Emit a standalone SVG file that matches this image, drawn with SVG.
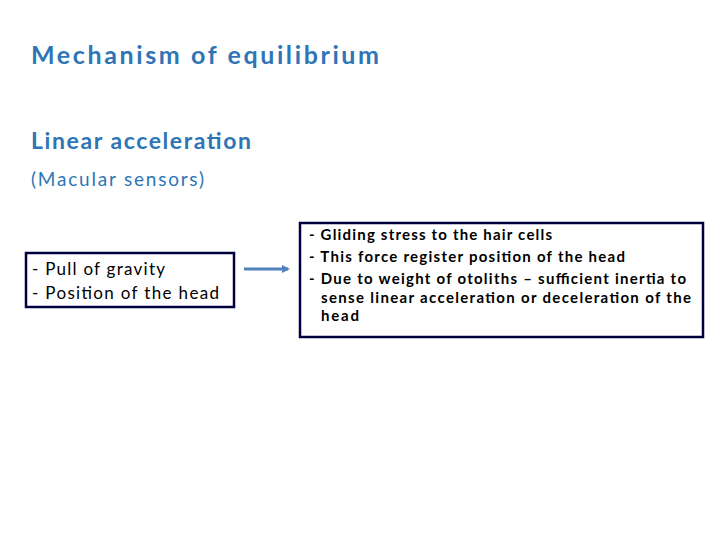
<svg xmlns="http://www.w3.org/2000/svg" width="720" height="540" viewBox="0 0 720 540">
<style>
.h{font-family:Lato,"Open Sans",sans-serif;fill:#2E75B6;font-weight:bold}
.s{font-family:Lato,"Open Sans",sans-serif;fill:#2E75B6}
.t{font-family:Lato,"Open Sans",sans-serif;fill:#000;font-size:17px}
.b{font-family:Lato,"Open Sans",sans-serif;fill:#000;font-size:15px;font-weight:bold}
.box{fill:#fff;stroke:#000040;stroke-width:2.5}
</style>
<defs><marker id="ah" markerWidth="8" markerHeight="8" refX="6" refY="4" orient="auto" markerUnits="userSpaceOnUse"><path d="M0,0 L8,4 L0,8 Z" fill="#4F81BD"/></marker></defs>
<rect width="720" height="540" fill="#fff"/>
<text class="h" x="31" y="64" font-size="25" textLength="348">Mechanism of equilibrium</text>
<text class="h" x="31" y="149" font-size="23" textLength="220">Linear acceleration</text>
<text class="s" x="31" y="186" font-size="19" textLength="173">(Macular sensors)</text>
<g id="left">
<rect class="box" x="26" y="253" width="208" height="54"/>
<text class="t" x="32" y="275" textLength="133">- Pull of gravity</text>
<text class="t" x="32" y="299" textLength="187">- Position of the head</text>
</g>
<g id="right">
<rect class="box" x="300" y="223" width="403" height="114"/>
<text class="b" x="309" y="240" textLength="243">-  Gliding stress to the hair cells</text>
<text class="b" x="309" y="262" textLength="316">-  This force register position of the head</text>
<text class="b" x="309" y="284" textLength="377">-  Due to weight of otoliths – sufficient inertia to</text>
<text class="b" x="321" y="303" textLength="370">sense linear acceleration or deceleration of the</text>
<text class="b" x="321" y="321" textLength="38">head</text>
</g>
<g id="connectors">
<line x1="244" y1="269" x2="288" y2="269" stroke="#4F81BD" stroke-width="3" marker-end="url(#ah)"/>
</g>
</svg>
